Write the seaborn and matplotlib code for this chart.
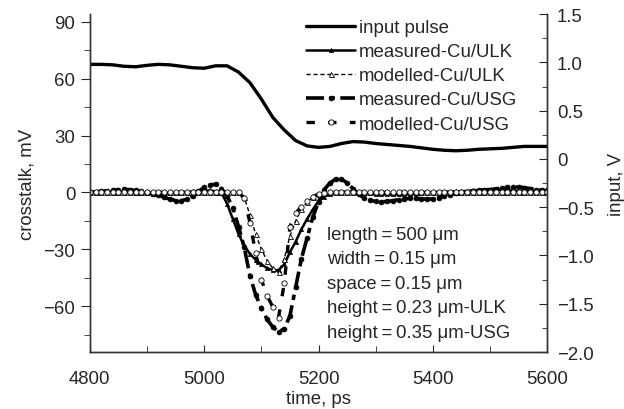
import numpy as np
import pandas as pd
import matplotlib
matplotlib.use("Agg")
import matplotlib.pyplot as plt
from matplotlib.ticker import MultipleLocator, FuncFormatter
import seaborn as sns

# ── data ──────────────────────────────────────────────────────────────────────
# crosstalk traces, mV, sampled every 10 ps from 4800 to 5600 ps
time_ps = np.arange(4800, 5601, 10)

measured_ulk = [
    0, 0.2, 0.4, 0.5, 0.5, 0.4, 0.2, 0, -0.2, -0.4,                 # 4800
    -0.5, -0.6, -0.6, -0.5, -0.4, -0.2, 0, 0.2, 0.5, 0.8,           # 4900
    1.0, 1.0, 0.6, -0.2, -6, -14, -22, -28, -32.5, -35.5,           # 5000
    -38, -40, -41, -41, -38, -31.5, -26, -19.5, -14, -9,            # 5100
    -4.5, -2.2, -0.8, 0, 0.3, 0.4, 0.3, 0.1, -0.2, -0.5,            # 5200
    -0.8, -1.0, -1.1, -1.1, -1.0, -0.8, -0.6, -0.4, -0.2, 0,        # 5300
    0.1, 0.2, 0.3, 0.4, 0.5, 0.6, 0.8, 1.0, 1.2, 1.4,               # 5400
    1.5, 1.5, 1.4, 1.2, 1.0, 0.8, 0.6, 0.5, 0.4, 0.3,               # 5500
    0.3,                                                            # 5600
]

modelled_ulk = [0.0] * 27 + [
    -2.5, -12, -22,                                                 # 5070
    -30, -36, -40, -42, -35, -23, -15, -9, -5, -2.5,                # 5100
    -1, -0.3,                                                       # 5200
] + [0.0] * 39

measured_usg = [
    0, 0.3, 0.5, 0.8, 1.2, 1.5, 1.6, 1.4, 1.0, 0.5,                 # 4800
    0, -0.6, -1.5, -2.6, -3.6, -4.3, -4.4, -3.6, -1.8, 0.5,         # 4900
    2.6, 4.0, 4.2, 2.0, -2, -8, -18, -29, -44, -54,                 # 5000
    -61, -67, -71, -73.5, -72, -65, -50, -35, -24, -13,             # 5100
    -5, 1.5, 5, 7, 7, 5, 2, -1, -3, -4.2,                           # 5200
    -4.8, -5, -4.8, -4.4, -3.8, -3.4, -3.2, -3.2, -3.4, -3.6,       # 5300
    -3.4, -2.8, -2, -1.2, -0.5, 0, 0.4, 0.8, 1.1, 1.3,              # 5400
    1.5, 1.8, 2.2, 2.6, 2.8, 2.8, 2.5, 2, 1.5, 1.2,                 # 5500
    1.0,                                                            # 5600
]

modelled_usg = [0.0] * 27 + [
    -3, -16, -32,                                                   # 5070
    -46, -54.5, -60.5, -66, -48, -18, -11, -7.5, -4.5, -2.2,        # 5100
    -1, -0.4,                                                       # 5200
] + [0.0] * 39

# input pulse, V, every 20 ps
pulse_ps = np.arange(4800, 5601, 20)
input_pulse = [
    0.98, 0.98, 0.975, 0.96, 0.955, 0.97, 0.98, 0.975, 0.96, 0.945, # 4800
    0.94, 0.965, 0.965, 0.90, 0.79, 0.62, 0.43, 0.30, 0.19, 0.135,  # 5000
    0.12, 0.13, 0.16, 0.18, 0.175, 0.16, 0.15, 0.14, 0.13, 0.115,   # 5200
    0.10, 0.09, 0.085, 0.09, 0.10, 0.105, 0.11, 0.12, 0.13, 0.13,   # 5400
    0.13,                                                           # 5600
]

notes = [
    "length\u2009=\u2009500 \u03bcm",
    "width\u2009=\u20090.15 \u03bcm",
    "space\u2009=\u20090.15 \u03bcm",
    "height\u2009=\u20090.23 \u03bcm-ULK",
    "height\u2009=\u20090.35 \u03bcm-USG",
]

# ── style ─────────────────────────────────────────────────────────────────────
sns.set_style("ticks")
plt.rcParams["font.family"] = ["Liberation Sans", "DejaVu Sans"]
FS = 13.4

fig, ax = plt.subplots(figsize=(6.24, 4.10), dpi=100)
fig.subplots_adjust(left=0.144, right=0.877, top=0.963, bottom=0.139)
ax2 = ax.twinx()

# ── crosstalk traces (left axis) ─────────────────────────────────────────────
sns.lineplot(x=time_ps, y=measured_ulk, ax=ax, color="black", lw=1.8,
             marker="^", markersize=3, markeredgewidth=0.5,
             markerfacecolor="black", markeredgecolor="black")
sns.lineplot(x=time_ps, y=modelled_ulk, ax=ax, color="black", lw=1.0,
             marker="^", markersize=3.6, markeredgewidth=0.6,
             markerfacecolor="white", markeredgecolor="black")
ax.lines[-1].set_dashes((3, 2))
sns.lineplot(x=time_ps, y=measured_usg, ax=ax, color="black", lw=2.6,
             marker="o", markersize=3.5, markeredgewidth=0.5,
             markerfacecolor="black", markeredgecolor="black")
ax.lines[-1].set_dashes((5, 1.5, 1.5, 1.5))
sns.lineplot(x=time_ps, y=modelled_usg, ax=ax, color="black", lw=2.4,
             marker="o", markersize=3.8, markeredgewidth=0.6,
             markerfacecolor="white", markeredgecolor="black")
ax.lines[-1].set_dashes((2.5, 4))

# ── input pulse (right axis) ─────────────────────────────────────────────────
sns.lineplot(x=pulse_ps, y=input_pulse, ax=ax2, color="black", lw=2.4)

# ── axes ──────────────────────────────────────────────────────────────────────
ax.set_xlim(4800, 5600)
ax.set_ylim(-84.2, 94)
ax2.set_ylim(-2.0, 1.5)

ax.xaxis.set_major_locator(MultipleLocator(200))
ax.xaxis.set_minor_locator(MultipleLocator(100))
ax.yaxis.set_major_locator(MultipleLocator(30))
ax.yaxis.set_minor_locator(MultipleLocator(15))
ax2.yaxis.set_major_locator(MultipleLocator(0.5))
ax2.yaxis.set_minor_locator(MultipleLocator(0.25))

minus = "\u2212"
ax.yaxis.set_major_formatter(FuncFormatter(lambda v, p: f"{v:.0f}".replace("-", minus)))
ax2.yaxis.set_major_formatter(
    FuncFormatter(lambda v, p: "0" if abs(v) < 1e-9 else f"{v:.1f}".replace("-", minus)))

ax.tick_params(axis="x", which="both", direction="in", pad=13, labelsize=FS)
ax.tick_params(axis="x", which="major", length=5)
ax.tick_params(axis="x", which="minor", length=4)
ax.tick_params(axis="y", which="major", direction="out", length=6.5, pad=4, labelsize=FS)
ax.tick_params(axis="y", which="minor", direction="out", length=4)
ax2.tick_params(axis="y", which="major", direction="in", length=5.5, pad=7, labelsize=FS)
ax2.tick_params(axis="y", which="minor", direction="in", length=3.5)

for a in (ax, ax2):
    a.spines["top"].set_visible(False)
    for s in ("left", "right", "bottom"):
        a.spines[s].set_linewidth(1.0)
        a.spines[s].set_color("#333333")

ax.set_xlabel("time, ps", fontsize=FS, labelpad=2)
ax.set_ylabel("crosstalk, mV", fontsize=FS, labelpad=6)
ax2.set_ylabel("input, V", fontsize=FS, labelpad=10)

# ── annotation ───────────────────────────────────────────────────────────────
ax.text(5215, -48, "\n".join(notes), fontsize=FS, va="center", ha="left",
        linespacing=1.57)

# ── legend ───────────────────────────────────────────────────────────────────
handles = [ax2.lines[0]] + ax.lines[:4]
labels = ["input pulse", "measured-Cu/ULK", "modelled-Cu/ULK",
          "measured-Cu/USG", "modelled-Cu/USG"]
leg = ax2.legend(handles, labels, loc="upper left", bbox_to_anchor=(0.437, 1.035),
                 frameon=False, fontsize=FS, handlelength=2.6, handletextpad=0.2,
                 labelspacing=0.38)

fig.savefig("out.png", dpi=100)
